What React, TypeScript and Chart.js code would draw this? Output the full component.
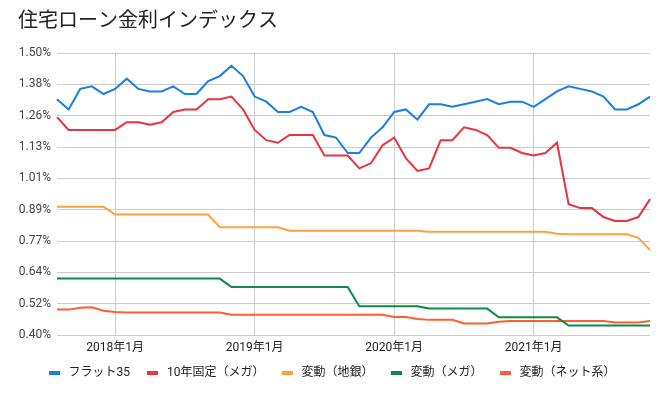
import React, { useEffect, useRef } from 'react';
import { Chart, registerables } from 'chart.js';

Chart.register(...registerables);

const months = [
  '2017年8月', '2017年9月', '2017年10月', '2017年11月', '2017年12月',
  '2018年1月', '2018年2月', '2018年3月', '2018年4月', '2018年5月', '2018年6月',
  '2018年7月', '2018年8月', '2018年9月', '2018年10月', '2018年11月', '2018年12月',
  '2019年1月', '2019年2月', '2019年3月', '2019年4月', '2019年5月', '2019年6月',
  '2019年7月', '2019年8月', '2019年9月', '2019年10月', '2019年11月', '2019年12月',
  '2020年1月', '2020年2月', '2020年3月', '2020年4月', '2020年5月', '2020年6月',
  '2020年7月', '2020年8月', '2020年9月', '2020年10月', '2020年11月', '2020年12月',
  '2021年1月', '2021年2月', '2021年3月', '2021年4月', '2021年5月', '2021年6月',
  '2021年7月', '2021年8月', '2021年9月', '2021年10月', '2021年11月',
];

const flat35 = [
  1.32, 1.28, 1.36, 1.37, 1.34,
  1.36, 1.40, 1.36, 1.35, 1.35, 1.37, 1.34, 1.34, 1.39, 1.41, 1.45, 1.41,
  1.33, 1.31, 1.27, 1.27, 1.29, 1.27, 1.18, 1.17, 1.11, 1.11, 1.17, 1.21,
  1.27, 1.28, 1.24, 1.30, 1.30, 1.29, 1.30, 1.31, 1.32, 1.30, 1.31, 1.31,
  1.29, 1.32, 1.35, 1.37, 1.36, 1.35, 1.33, 1.28, 1.28, 1.30, 1.33,
];

const fixed10Mega = [
  1.25, 1.20, 1.20, 1.20, 1.20,
  1.20, 1.23, 1.23, 1.22, 1.23, 1.27, 1.28, 1.28, 1.32, 1.32, 1.33, 1.28,
  1.20, 1.16, 1.15, 1.18, 1.18, 1.18, 1.10, 1.10, 1.10, 1.05, 1.07, 1.14,
  1.17, 1.09, 1.04, 1.05, 1.16, 1.16, 1.21, 1.20, 1.18, 1.13, 1.13, 1.11,
  1.10, 1.11, 1.15, 0.91, 0.895, 0.895, 0.86, 0.845, 0.845, 0.86, 0.93,
];

const variableRegional = [
  0.90, 0.90, 0.90, 0.90, 0.90,
  0.87, 0.87, 0.87, 0.87, 0.87, 0.87, 0.87, 0.87, 0.87, 0.82, 0.82, 0.82,
  0.82, 0.82, 0.82, 0.807, 0.807, 0.807, 0.807, 0.807, 0.807, 0.807, 0.807, 0.807,
  0.807, 0.807, 0.807, 0.803, 0.803, 0.803, 0.803, 0.803, 0.803, 0.803, 0.803, 0.803,
  0.803, 0.803, 0.795, 0.793, 0.793, 0.793, 0.793, 0.793, 0.793, 0.779, 0.731,
];

const variableMega = [
  0.62, 0.62, 0.62, 0.62, 0.62,
  0.62, 0.62, 0.62, 0.62, 0.62, 0.62, 0.62, 0.62, 0.62, 0.62, 0.587, 0.587,
  0.587, 0.587, 0.587, 0.587, 0.587, 0.587, 0.587, 0.587, 0.587, 0.512, 0.512, 0.512,
  0.512, 0.512, 0.512, 0.503, 0.503, 0.503, 0.503, 0.503, 0.503, 0.469, 0.469, 0.469,
  0.469, 0.469, 0.469, 0.437, 0.437, 0.437, 0.437, 0.437, 0.437, 0.437, 0.437,
];

const variableNet = [
  0.499, 0.499, 0.506, 0.508, 0.495,
  0.490, 0.488, 0.488, 0.488, 0.488, 0.488, 0.488, 0.488, 0.488, 0.488, 0.479, 0.479,
  0.479, 0.479, 0.479, 0.479, 0.479, 0.479, 0.479, 0.479, 0.479, 0.479, 0.479, 0.479,
  0.470, 0.470, 0.462, 0.459, 0.459, 0.459, 0.445, 0.445, 0.445, 0.452, 0.455, 0.455,
  0.455, 0.455, 0.455, 0.455, 0.455, 0.455, 0.455, 0.449, 0.449, 0.449, 0.455,
];

const yTickLabels = ['0.40%', '0.52%', '0.64%', '0.77%', '0.89%', '1.01%', '1.13%', '1.26%', '1.38%', '1.50%'];

const seriesNames = ['フラット35', '10年固定（メガ）', '変動（地銀）', '変動（メガ）', '変動（ネット系）'];
const seriesColors = ['#1a7ee3', '#e8353d', '#fda33b', '#0d8a4a', '#ff5f2e'];

const FONT = "Roboto, 'Noto Sans CJK JP', sans-serif";

export default function App() {
  const ref = useRef<HTMLCanvasElement>(null);

  useEffect(() => {
    if (!ref.current) return;
    const marker = (color: string) => {
      const cv = document.createElement('canvas');
      cv.width = 11;
      cv.height = 4;
      const c = cv.getContext('2d')!;
      c.fillStyle = color;
      c.fillRect(0, 0, 11, 4);
      return cv;
    };
    const seriesData = [flat35, fixed10Mega, variableRegional, variableMega, variableNet];

    const legendShift = {
      id: 'legendShift',
      afterLayout(chart: any) {
        const lg = chart.legend;
        if (!lg) return;
        lg.left += 13.5;
        lg.right += 13.5;
        lg.top -= 8;
        lg.bottom -= 8;
      },
    };

    const chart = new Chart(ref.current, {
      type: 'line',
      data: {
        labels: months,
        datasets: seriesData.map((d, i) => ({
          label: seriesNames[i],
          data: d,
          borderColor: seriesColors[i],
          backgroundColor: seriesColors[i],
          borderWidth: 2,
          pointRadius: 0,
          pointHoverRadius: 0,
          pointStyle: marker(seriesColors[i]) as any,
          tension: 0,
          fill: false,
        })),
      },
      options: {
        responsive: false,
        animation: false,
        events: [],
        layout: { padding: { left: 18, right: 18, top: 0, bottom: 0 } },
        plugins: {
          title: {
            display: true,
            text: '住宅ローン金利インデックス',
            align: 'start',
            color: '#222222',
            font: { family: FONT, size: 20, weight: 'normal' },
            padding: { top: 10, bottom: 19 },
          },
          legend: {
            display: true,
            position: 'bottom',
            align: 'start',
            labels: {
              usePointStyle: true,
              pointStyleWidth: 16,
              padding: 15,
              color: '#222222',
              font: { family: FONT, size: 12 },
            },
          },
          tooltip: { enabled: false },
        },
        scales: {
          x: {
            type: 'category',
            offset: false,
            border: { display: false },
            grid: {
              drawTicks: false,
              lineWidth: 1,
              color: (ctx: any) => {
                const lbl = months[ctx.index];
                return lbl && lbl.endsWith('年1月') ? '#cccccc' : 'rgba(0,0,0,0)';
              },
            },
            ticks: {
              autoSkip: false,
              maxRotation: 0,
              minRotation: 0,
              padding: 6,
              color: '#222222',
              font: { family: FONT, size: 12 },
              callback: (_v: any, i: number) => (months[i].endsWith('年1月') ? months[i] : ''),
            },
            afterFit: (s: any) => {
              s.height = 25;
            },
          },
          y: {
            min: 0.4,
            max: 1.5,
            border: { display: false },
            grid: { drawTicks: false, color: '#cccccc', lineWidth: 1 },
            ticks: {
              count: 10,
              padding: 6,
              color: '#444444',
              font: { family: FONT, size: 12 },
              callback: (_v: any, i: number) => yTickLabels[i],
            },
            afterFit: (s: any) => {
              s.width = 39;
            },
          },
        },
      },
      plugins: [legendShift],
    });
    return () => chart.destroy();
  }, []);

  return (
    <div style={{ position: 'absolute', left: 0, top: 0, width: 668, height: 397, background: '#ffffff' }}>
      <canvas ref={ref} width={668} height={397} style={{ display: 'block', width: 668, height: 397 }} />
    </div>
  );
}
